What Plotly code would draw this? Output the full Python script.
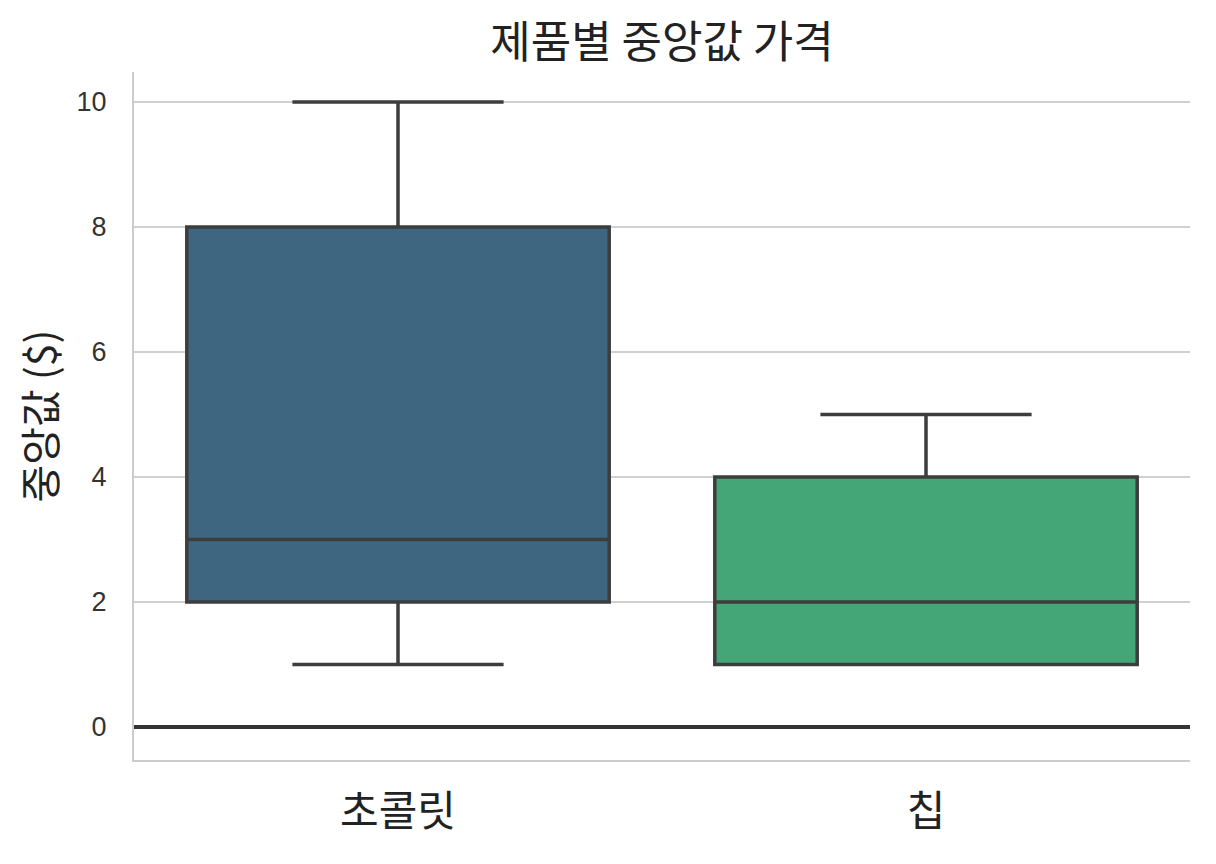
import plotly.graph_objects as go

categories = ["초콜릿", "칩"]
q1 = [2, 1]
median = [3, 2]
q3 = [8, 4]
lower = [1, 1]
upper = [10, 5]
colors = ["#3e6680", "#44a677"]
y_ticks = [0, 2, 4, 6, 8, 10]

fig = go.Figure()
for i, c in enumerate(categories):
    fig.add_trace(go.Box(
        x=[c], q1=[q1[i]], median=[median[i]], q3=[q3[i]],
        lowerfence=[lower[i]], upperfence=[upper[i]],
        fillcolor=colors[i], line=dict(color="#3d3d3d", width=3.5),
        whiskerwidth=0.5, boxpoints=False, showlegend=False, width=0.8,
        hoverinfo="skip",
    ))

font_kr = "Noto Sans CJK KR, Liberation Sans, sans-serif"
fig.update_layout(
    width=1216, height=864,
    margin=dict(l=126, r=34, t=64, b=112),
    paper_bgcolor="white", plot_bgcolor="white",
    boxmode="overlay",
    title=dict(text="제품별 중앙값 가격", x=(126 + 528) / 1216, xanchor="center",
               y=1 - 35 / 864, yanchor="middle",
               font=dict(family=font_kr, size=44, color="#222222")),
    xaxis=dict(
        range=[-0.5, 1.5], showgrid=False, showline=True, linecolor="#cccccc", linewidth=2,
        ticks="", tickfont=dict(family=font_kr, size=42, color="#222222"),
        ticklabelstandoff=14,
    ),
    yaxis=dict(
        range=[-0.528, 10.48], tickvals=y_ticks, showgrid=True, gridcolor="#d0d0d0", gridwidth=2,
        showline=True, linecolor="#cccccc", linewidth=2, ticks="",
        zeroline=True, zerolinecolor="#333333", zerolinewidth=4,
        tickfont=dict(family="Liberation Sans, Arial, sans-serif", size=27, color="#333333"),
        ticklabelstandoff=20,
        title=dict(text="중앙값 ($)", font=dict(family=font_kr, size=41, color="#222222"), standoff=14),
    ),
)
fig.write_html("out.html")
